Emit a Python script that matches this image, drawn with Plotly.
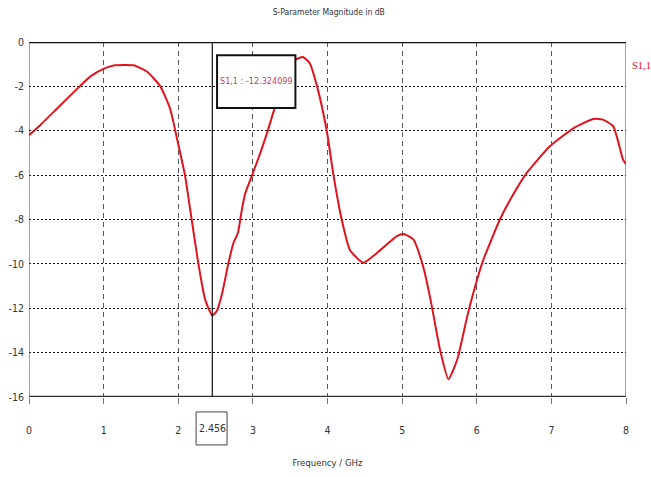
import plotly.graph_objects as go

freq = [0, 0.15, 0.42, 0.68, 0.82, 0.99, 1.15, 1.4, 1.58, 1.76, 1.89, 1.98, 2.09, 2.18,
        2.27, 2.36, 2.456, 2.52, 2.59, 2.67, 2.74, 2.80, 2.85, 2.9, 2.99, 3.1, 3.19, 3.3,
        3.42, 3.57, 3.67, 3.76, 3.86, 3.99, 4.08, 4.19, 4.3, 4.48, 4.7, 4.93, 5.02, 5.15,
        5.28, 5.38, 5.51, 5.62, 5.74, 5.87, 5.98, 6.09, 6.31, 6.45, 6.67, 6.98, 7.29,
        7.56, 7.69, 7.83, 7.96, 8.0]
s11 = [-4.2, -3.75, -2.85, -2.0, -1.56, -1.22, -1.05, -1.05, -1.33, -2.0, -3.0, -4.3, -6.0, -8.0,
       -10.0, -11.6, -12.324099, -12.1, -11.3, -10.0, -9.06, -8.6, -7.6, -6.8, -6.0, -5.0, -4.1, -2.9,
       -1.9, -0.8, -0.68, -0.95, -2.0, -4.0, -6.0, -8.0, -9.37, -9.95, -9.4, -8.75, -8.65, -8.9,
       -10.1, -11.6, -13.9, -15.2, -14.3, -12.4, -11.0, -9.8, -8.0, -7.1, -5.9, -4.7, -3.9,
       -3.47, -3.5, -3.8, -5.3, -5.5]

x_ticks = [0, 1, 2, 3, 4, 5, 6, 7, 8]
y_ticks = [0, -2, -4, -6, -8, -10, -12, -14, -16]
marker_f = 2.456
marker_label = "S1,1 : -12.324099"

FONT = "DejaVu Sans Condensed, Liberation Sans Narrow, sans-serif"
RED = "#e0141e"
TXT = "#333333"

fig = go.Figure()
fig.add_trace(go.Scatter(x=freq, y=s11, mode="lines",
                         line=dict(color=RED, width=2, shape="spline", smoothing=0.5),
                         showlegend=False, hoverinfo="skip"))

fig.update_layout(
    width=651, height=477,
    margin=dict(l=29, r=25, t=42, b=80),
    paper_bgcolor="white", plot_bgcolor="white",
    font=dict(family=FONT, size=10.5, color=TXT),
    title=dict(text="S-Parameter Magnitude in dB", x=0.505, xanchor="center",
               y=0.975, yanchor="middle", font=dict(size=8.5, color=TXT)),
    xaxis=dict(range=[0, 8], tickvals=x_ticks, ticktext=[str(v) for v in x_ticks],
               showgrid=True, gridcolor="#555555", griddash="5px,4px", gridwidth=1,
               zeroline=False, showline=False, ticks="outside", ticklen=6,
               tickcolor="#777777", ticklabelstandoff=17, automargin=False,
               title=dict(text="Frequency / GHz", standoff=24, font=dict(size=9.5))),
    yaxis=dict(range=[-16, 0], tickvals=y_ticks, ticktext=[str(v) for v in y_ticks],
               showgrid=True, gridcolor="#111111", griddash="2px,2px", gridwidth=1,
               zeroline=False, showline=False, ticks="", ticklabelstandoff=4,
               automargin=False),
)

# frame
fig.add_shape(type="line", xref="x", yref="y", x0=0, x1=8, y0=0, y1=0,
              line=dict(color="#111111", width=2.5), layer="above")
fig.add_shape(type="line", xref="x", yref="y", x0=0, x1=8, y0=-16, y1=-16,
              line=dict(color="#333333", width=2.5), layer="above")
fig.add_shape(type="line", xref="x", yref="y", x0=0, x1=0, y0=-16, y1=0,
              line=dict(color="#444444", width=1), layer="above")
fig.add_shape(type="line", xref="x", yref="y", x0=8, x1=8, y0=-16, y1=0,
              line=dict(color="#444444", width=1), layer="above")

# marker cursor line
fig.add_shape(type="line", xref="x", yref="y", x0=marker_f, x1=marker_f, y0=-16, y1=0,
              line=dict(color="#111111", width=1.2), layer="above")

# marker value box
fig.add_shape(type="rect", xref="x", yref="y", x0=2.52, x1=3.57, y0=-2.97, y1=-0.6,
              fillcolor="white", line=dict(color="#111111", width=2), layer="above")
fig.add_annotation(x=3.045, y=-1.78, xref="x", yref="y", xanchor="center", yanchor="middle",
                   text=marker_label, showarrow=False,
                   font=dict(family=FONT, size=9, color="#c8405a"))

# marker frequency label on x-axis
fig.add_shape(type="rect", xref="x", yref="paper", x0=2.239, x1=2.654, y0=-0.135, y1=-0.042,
              fillcolor="white", line=dict(color="#444444", width=1), layer="above")
fig.add_annotation(x=marker_f, y=-0.0885, xref="x", yref="paper", xanchor="center",
                   yanchor="middle", text=str(marker_f), showarrow=False,
                   font=dict(family=FONT, size=10.5, color=TXT))

# trace label
fig.add_annotation(x=1.0, xref="paper", y=0.935, yref="paper", xanchor="left", xshift=4,
                   yanchor="middle", text="S1,1", showarrow=False,
                   font=dict(family="Liberation Serif, serif", size=10.5, color=RED))

fig.write_html("out.html", config={"displayModeBar": False},
               post_script="document.body.style.margin='0';")
